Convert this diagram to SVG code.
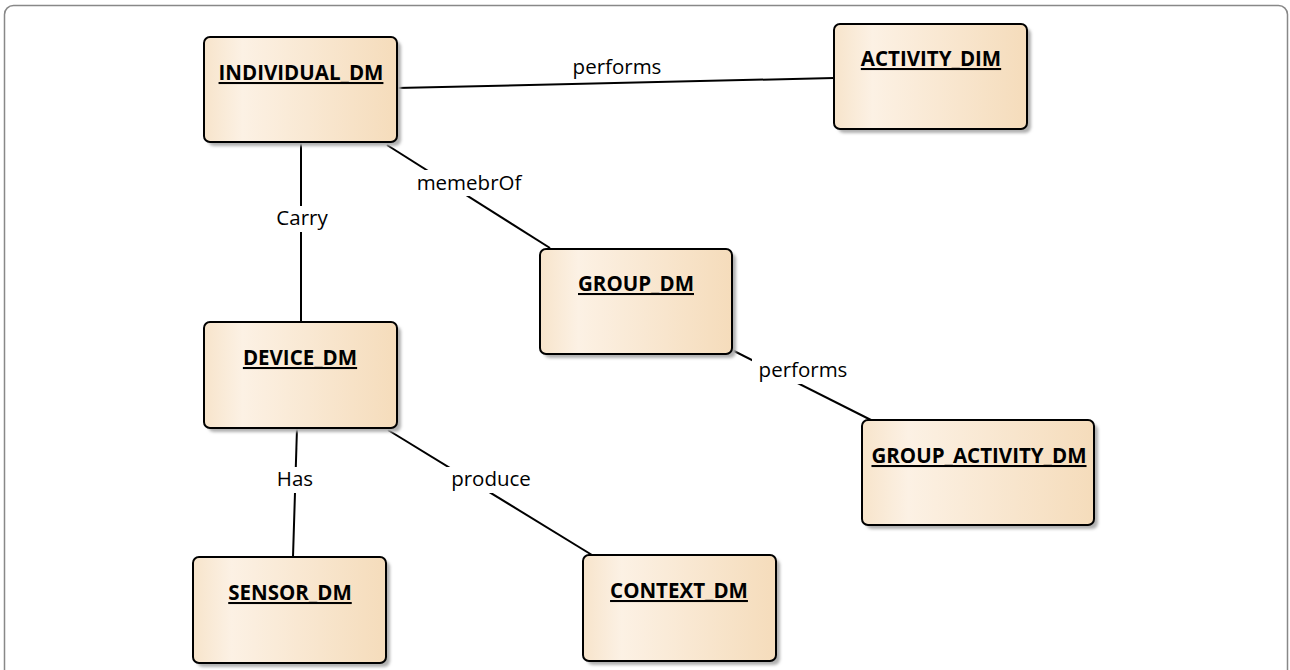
<svg xmlns="http://www.w3.org/2000/svg" width="1290" height="670" viewBox="0 0 1290 670">
  <defs>
    <linearGradient id="fill" x1="0" y1="0" x2="1" y2="0">
      <stop offset="0" stop-color="#f7e4cb"/>
      <stop offset="0.2" stop-color="#fcf1e4"/>
      <stop offset="1" stop-color="#f5dcbb"/>
    </linearGradient>
    <filter id="shadow" x="-10%" y="-10%" width="130%" height="130%">
      <feGaussianBlur stdDeviation="1.5"/>
    </filter>
  </defs>
  <style>
    .box { fill: url(#fill); stroke: #000; stroke-width: 2; }
    .shade { fill: #b0b0b0; filter: url(#shadow); }
    .title { font-family: "Open Sans", "Liberation Sans", sans-serif; font-size: 20.5px; font-weight: bold; text-anchor: middle; text-decoration: underline; fill: #000; }
    .edge { stroke: #000; stroke-width: 2; fill: none; }
    .lbl { font-family: "Open Sans", "Liberation Sans", sans-serif; font-size: 20.5px; text-anchor: middle; fill: #000; }
    .lblbg { fill: #fff; }
  </style>
  <rect width="1290" height="670" fill="#fff"/>
  <rect x="4.5" y="5.5" width="1283" height="700" rx="9" fill="none" stroke="#888" stroke-width="1.5"/>

  <g id="connectors">
    <line class="edge" x1="397" y1="88" x2="834" y2="78"/>
    <line class="edge" x1="387" y1="145" x2="550" y2="248"/>
    <line class="edge" x1="301" y1="142" x2="301" y2="322"/>
    <line class="edge" x1="732" y1="350" x2="871" y2="420"/>
    <line class="edge" x1="297" y1="428" x2="293" y2="557"/>
    <line class="edge" x1="388" y1="430" x2="592" y2="555"/>
    <rect class="lblbg" x="566" y="55" width="102" height="24"/>
    <text class="lbl" x="617" y="74">performs</text>
    <rect class="lblbg" x="408" y="170" width="122" height="26"/>
    <text class="lbl" x="469" y="190">memebrOf</text>
    <rect class="lblbg" x="270" y="206" width="64" height="26"/>
    <text class="lbl" x="302" y="225">Carry</text>
    <rect class="lblbg" x="752" y="358" width="102" height="26"/>
    <text class="lbl" x="803" y="377">performs</text>
    <rect class="lblbg" x="272" y="467" width="46" height="26"/>
    <text class="lbl" x="295" y="486">Has</text>
    <rect class="lblbg" x="442" y="467" width="98" height="26"/>
    <text class="lbl" x="491" y="486">produce</text>
  </g>

  <g id="individual_dm">
    <rect class="shade" x="208" y="41" width="193" height="105" rx="6"/>
    <rect class="box" x="204" y="37" width="193" height="105" rx="6"/>
    <text class="title" x="301" y="80">INDIVIDUAL_DM</text>
  </g>
  <g id="activity_dim">
    <rect class="shade" x="838" y="28" width="193" height="105" rx="6"/>
    <rect class="box" x="834" y="24" width="193" height="105" rx="6"/>
    <text class="title" x="931" y="66">ACTIVITY_DIM</text>
  </g>
  <g id="group_dm">
    <rect class="shade" x="544" y="253" width="192" height="105" rx="6"/>
    <rect class="box" x="540" y="249" width="192" height="105" rx="6"/>
    <text class="title" x="636" y="291">GROUP_DM</text>
  </g>
  <g id="device_dm">
    <rect class="shade" x="208" y="326" width="193" height="106" rx="6"/>
    <rect class="box" x="204" y="322" width="193" height="106" rx="6"/>
    <text class="title" x="300" y="365">DEVICE_DM</text>
  </g>
  <g id="group_activity_dm">
    <rect class="shade" x="866" y="424" width="232" height="105" rx="6"/>
    <rect class="box" x="862" y="420" width="232" height="105" rx="6"/>
    <text class="title" x="979" y="463">GROUP_ACTIVITY_DM</text>
  </g>
  <g id="sensor_dm">
    <rect class="shade" x="197" y="561" width="193" height="106" rx="6"/>
    <rect class="box" x="193" y="557" width="193" height="106" rx="6"/>
    <text class="title" x="290" y="600">SENSOR_DM</text>
  </g>
  <g id="context_dm">
    <rect class="shade" x="587" y="559" width="193" height="106" rx="6"/>
    <rect class="box" x="583" y="555" width="193" height="106" rx="6"/>
    <text class="title" x="679" y="598">CONTEXT_DM</text>
  </g>
</svg>
